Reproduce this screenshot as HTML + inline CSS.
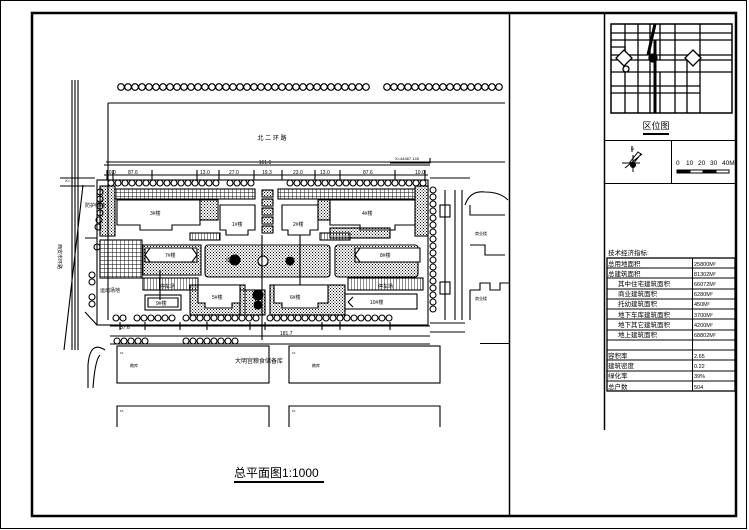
<!DOCTYPE html>
<html><head><meta charset="utf-8"><style>
html,body{margin:0;padding:0;background:#fff}
svg{display:block}
text{font-family:"Liberation Sans","Noto Sans CJK SC",sans-serif;fill:#000}
</style></head><body>
<svg width="749" height="530" viewBox="0 0 749 530" xmlns="http://www.w3.org/2000/svg">
<defs>
<pattern id="dots" width="3" height="3" patternUnits="userSpaceOnUse"><rect x="0" y="0" width="1" height="1" fill="#000"/><rect x="1.5" y="1.5" width="1" height="1" fill="#000"/></pattern>
<pattern id="grid" width="4" height="4" patternUnits="userSpaceOnUse"><path d="M0 0H4M0 0V4" stroke="#000" stroke-width="0.9" fill="none"/></pattern>
<pattern id="vl" width="3" height="4" patternUnits="userSpaceOnUse"><path d="M0 0V4" stroke="#000" stroke-width="0.9"/></pattern>
</defs>
<g fill="none" stroke="#000">
<rect x="0.5" y="0.5" width="746" height="528" stroke-width="1"/>
<rect x="32" y="13" width="704" height="503" stroke-width="2.5"/>
<line x1="509.5" y1="13" x2="509.5" y2="516" stroke-width="1.5"/>
<line x1="604.5" y1="13" x2="604.5" y2="430" stroke-width="1.5"/>
<line x1="480" y1="343.5" x2="509" y2="343.5"/>
<rect x="611" y="24" width="121" height="89" stroke-width="1.5"/>
<g stroke-width="1.3">
<path d="M611 33H732M611 40H732M611 55H732M611 60H732M611 72H732M611 86H700M611 93H700M625 24V113M638 24V113M650 24V113M660 24V60M675 24V113M687 60V113M700 24V113M660 72V113"/>
<path d="M655 24L648 55" stroke-width="3"/>
<path d="M655 40V113" stroke-width="3"/>
<path d="M611 47L625 47L625 58"/>
<path d="M624 50l8 8-8 8-8-8z" fill="#fff"/><path d="M693 50l8 8-8 8-8-8z" fill="#fff"/>
<circle cx="626" cy="69" r="3" fill="#fff"/>
<circle cx="653" cy="58" r="4" fill="#000"/>
</g>
<path d="M643 134H669" stroke-width="2"/>
<line x1="604" y1="140.5" x2="736" y2="140.5"/>
<line x1="671.5" y1="140" x2="671.5" y2="183"/>
<line x1="604" y1="183.5" x2="736" y2="183.5"/>
<path d="M632 146V152M625 168L642 154M630 162l8-10 3 2-8 10z M622 163H640M633 155V172"/>
<circle cx="633" cy="165" r="2.5" fill="#000"/>
<rect x="677" y="170" width="52" height="3" /><rect x="677" y="170" width="13" height="3" fill="#000"/><rect x="703" y="170" width="13" height="3" fill="#000"/>
<rect x="607" y="258" width="128" height="133" stroke-width="1.3"/>
<line x1="692.5" y1="258" x2="692.5" y2="391"/>
<path d="M607 268H735M607 278H735M607 289H735M607 299H735M607 309H735M607 319H735M607 330H735M607 340H735M607 350H735M607 360H735M607 371H735M607 381H735"/>
</g>
<g font-size="6.5">
<text x="656" y="129" font-size="9" text-anchor="middle">区位图</text>
<text x="631" y="150" font-size="4">N</text>
<text x="676" y="165">0</text><text x="686" y="165">10</text><text x="698" y="165">20</text><text x="710" y="165">30</text><text x="722" y="165">40M</text>
<text x="608" y="255">技术经济指标:</text>
<text x="608" y="266">总用地面积</text><text x="694" y="266" font-size="5.5">25800M²</text>
<text x="608" y="276">总建筑面积</text><text x="694" y="276" font-size="5.5">81302M²</text>
<text x="618" y="286">其中住宅建筑面积</text><text x="694" y="286" font-size="5.5">66072M²</text>
<text x="618" y="296">商业建筑面积</text><text x="694" y="296" font-size="5.5">6280M²</text>
<text x="618" y="306">托幼建筑面积</text><text x="694" y="306" font-size="5.5">450M²</text>
<text x="618" y="317">地下车库建筑面积</text><text x="694" y="317" font-size="5.5">3700M²</text>
<text x="618" y="327">地下其它建筑面积</text><text x="694" y="327" font-size="5.5">4200M²</text>
<text x="618" y="337">地上建筑面积</text><text x="694" y="337" font-size="5.5">68802M²</text>
<text x="608" y="358">容积率</text><text x="694" y="358" font-size="5.5">2.65</text>
<text x="608" y="368">建筑密度</text><text x="694" y="368" font-size="5.5">0.22</text>
<text x="608" y="378">绿化率</text><text x="694" y="378" font-size="5.5">39%</text>
<text x="608" y="389">总户数</text><text x="694" y="389" font-size="5.5">504</text>
</g>
<g fill="none" stroke="#000" stroke-width="1.1">
<path d="M72 80V350M75 80V350M78 80V350M83 185L64 350M108 103H505M108 103V320M106 162H505"/>
<path d="M105 350Q90 340 88 365V388M100 355Q95 360 93 388"/>
<g stroke-width="1.2">
<circle cx="121" cy="87" r="3.3"/><circle cx="128" cy="87" r="3.3"/><circle cx="135" cy="87" r="3.3"/><circle cx="142" cy="87" r="3.3"/><circle cx="149" cy="87" r="3.3"/><circle cx="156" cy="87" r="3.3"/><circle cx="163" cy="87" r="3.3"/><circle cx="170" cy="87" r="3.3"/><circle cx="177" cy="87" r="3.3"/><circle cx="184" cy="87" r="3.3"/><circle cx="191" cy="87" r="3.3"/><circle cx="198" cy="87" r="3.3"/><circle cx="205" cy="87" r="3.3"/><circle cx="212" cy="87" r="3.3"/><circle cx="219" cy="87" r="3.3"/><circle cx="226" cy="87" r="3.3"/><circle cx="233" cy="87" r="3.3"/><circle cx="240" cy="87" r="3.3"/><circle cx="247" cy="87" r="3.3"/><circle cx="254" cy="87" r="3.3"/><circle cx="261" cy="87" r="3.3"/><circle cx="268" cy="87" r="3.3"/><circle cx="275" cy="87" r="3.3"/><circle cx="282" cy="87" r="3.3"/><circle cx="289" cy="87" r="3.3"/><circle cx="296" cy="87" r="3.3"/><circle cx="303" cy="87" r="3.3"/><circle cx="310" cy="87" r="3.3"/><circle cx="317" cy="87" r="3.3"/><circle cx="324" cy="87" r="3.3"/><circle cx="331" cy="87" r="3.3"/><circle cx="338" cy="87" r="3.3"/><circle cx="345" cy="87" r="3.3"/><circle cx="352" cy="87" r="3.3"/><circle cx="359" cy="87" r="3.3"/><circle cx="366" cy="87" r="3.3"/>
<circle cx="387" cy="87" r="3.3"/><circle cx="394" cy="87" r="3.3"/><circle cx="401" cy="87" r="3.3"/><circle cx="408" cy="87" r="3.3"/><circle cx="415" cy="87" r="3.3"/><circle cx="422" cy="87" r="3.3"/><circle cx="429" cy="87" r="3.3"/><circle cx="436" cy="87" r="3.3"/><circle cx="443" cy="87" r="3.3"/><circle cx="450" cy="87" r="3.3"/><circle cx="457" cy="87" r="3.3"/><circle cx="464" cy="87" r="3.3"/><circle cx="471" cy="87" r="3.3"/><circle cx="478" cy="87" r="3.3"/><circle cx="485" cy="87" r="3.3"/><circle cx="492" cy="87" r="3.3"/><circle cx="499" cy="87" r="3.3"/>
</g>
<path d="M104 165H430M104 175H428M107 170V180M113 170V180M152 170V180M197 170V180M219 170V180M254 170V180M282 170V180M315 170V180M340 170V180M395 170V180M425 170V180"/>
<path d="M390 163H430V158M430 178H470M95 178H60M95 186H60"/>
<rect x="97" y="180" width="331" height="145"/>
<path d="M97 325L85 312M97 238L85 238"/>
<g>
<circle cx="111" cy="183" r="3"/><circle cx="118" cy="183" r="3"/><circle cx="125" cy="183" r="3"/><circle cx="132" cy="183" r="3"/><circle cx="139" cy="183" r="3"/><circle cx="146" cy="183" r="3"/><circle cx="153" cy="183" r="3"/><circle cx="160" cy="183" r="3"/><circle cx="167" cy="183" r="3"/><circle cx="174" cy="183" r="3"/><circle cx="181" cy="183" r="3"/><circle cx="188" cy="183" r="3"/><circle cx="195" cy="183" r="3"/><circle cx="202" cy="183" r="3"/><circle cx="209" cy="183" r="3"/><circle cx="216" cy="183" r="3"/><circle cx="230" cy="183" r="3"/><circle cx="237" cy="183" r="3"/><circle cx="244" cy="183" r="3"/><circle cx="251" cy="183" r="3"/>
<circle cx="290" cy="183" r="3"/><circle cx="297" cy="183" r="3"/><circle cx="304" cy="183" r="3"/><circle cx="311" cy="183" r="3"/><circle cx="318" cy="183" r="3"/><circle cx="325" cy="183" r="3"/><circle cx="332" cy="183" r="3"/><circle cx="339" cy="183" r="3"/><circle cx="346" cy="183" r="3"/><circle cx="353" cy="183" r="3"/><circle cx="360" cy="183" r="3"/><circle cx="367" cy="183" r="3"/><circle cx="374" cy="183" r="3"/><circle cx="381" cy="183" r="3"/><circle cx="388" cy="183" r="3"/><circle cx="395" cy="183" r="3"/><circle cx="402" cy="183" r="3"/><circle cx="409" cy="183" r="3"/><circle cx="416" cy="183" r="3"/><circle cx="423" cy="183" r="3"/>
</g>
<g>
<circle cx="100" cy="192" r="3"/><circle cx="100" cy="199" r="3"/><circle cx="100" cy="206" r="3"/><circle cx="100" cy="213" r="3"/><circle cx="99" cy="220" r="3"/><circle cx="98" cy="227" r="3"/><circle cx="97" cy="247" r="3"/><circle cx="92" cy="275" r="3"/><circle cx="92" cy="282" r="3"/><circle cx="92" cy="297" r="3"/><circle cx="92" cy="304" r="3"/>
</g>
<g>
<circle cx="433" cy="190" r="3"/><circle cx="433" cy="197" r="3"/><circle cx="433" cy="204" r="3"/><circle cx="433" cy="211" r="3"/><circle cx="433" cy="218" r="3"/><circle cx="433" cy="225" r="3"/><circle cx="433" cy="232" r="3"/><circle cx="433" cy="239" r="3"/><circle cx="433" cy="246" r="3"/><circle cx="433" cy="253" r="3"/><circle cx="433" cy="260" r="3"/><circle cx="433" cy="267" r="3"/><circle cx="433" cy="274" r="3"/><circle cx="433" cy="281" r="3"/><circle cx="433" cy="288" r="3"/><circle cx="433" cy="295" r="3"/><circle cx="433" cy="302" r="3"/><circle cx="433" cy="309" r="3"/>
</g>
<rect x="115" y="189" width="140" height="10" fill="url(#grid)"/>
<rect x="278" y="189" width="137" height="10" fill="url(#grid)"/>
<rect x="262" y="190" width="11" height="7" fill="url(#dots)"/><rect x="262" y="199" width="11" height="7" fill="url(#dots)"/><rect x="262" y="208" width="11" height="7" fill="url(#dots)"/><rect x="262" y="217" width="11" height="7" fill="url(#dots)"/><rect x="262" y="226" width="11" height="7" fill="url(#dots)"/>
<rect x="100" y="186" width="15" height="50" fill="url(#dots)"/>
<rect x="415" y="186" width="13" height="50" fill="url(#dots)"/>
<path d="M117 200H200V225H172V230H140V225H117Z" fill="#fff"/>
<path d="M220 205H255V230H248V235H226V230H220Z"/>
<path d="M282 205H318V230H310V235H288V230H282Z"/>
<path d="M330 200H415V225H395V230H360V225H330Z" fill="#fff"/>
<rect x="200" y="200" width="18" height="20" fill="url(#dots)"/>
<rect x="318" y="200" width="12" height="20" fill="url(#dots)"/>
<rect x="330" y="228" width="60" height="10" fill="url(#dots)"/>
<rect x="190" y="233" width="30" height="7" fill="url(#vl)"/>
<rect x="320" y="233" width="30" height="7" fill="url(#vl)"/>
<rect x="100" y="240" width="42" height="38" fill="url(#grid)"/>
<rect x="205" y="245" width="125" height="32" rx="3" fill="url(#dots)"/>
<rect x="335" y="245" width="83" height="32" rx="3" fill="url(#dots)"/>
<rect x="143" y="245" width="58" height="30" fill="url(#dots)"/>
<circle cx="235" cy="260" r="5" fill="#000"/><circle cx="290" cy="261" r="4" fill="#000"/><circle cx="263" cy="261" r="5" fill="#fff"/>
<path d="M145 248H197V262H145Z" fill="#fff"/><path d="M145 255L150 248M145 255L150 262M197 255L192 248M197 255L192 262"/>
<path d="M355 248H420V262H355Z" fill="#fff"/><path d="M355 255L360 248M355 255L360 262"/>
<rect x="143" y="278" width="55" height="12" fill="url(#vl)"/>
<rect x="348" y="278" width="75" height="12" fill="url(#vl)"/>
<rect x="190" y="285" width="55" height="30" fill="url(#dots)"/>
<rect x="270" y="285" width="75" height="30" fill="url(#dots)"/>
<rect x="240" y="290" width="25" height="25" fill="url(#dots)"/>
<path d="M198 285H240V303H232V308H205V303H198Z" fill="#fff"/>
<path d="M274 285H328V303H318V308H282V303H274Z" fill="#fff"/>
<circle cx="258" cy="295" r="5" fill="#000"/><circle cx="258" cy="305" r="4" fill="#000"/>
<rect x="145" y="295" width="36" height="15" fill="#fff"/><path d="M148 298H178V307H148Z"/>
<rect x="345" y="294" width="72" height="15" fill="#fff"/><path d="M348 302L353 297M348 302L353 307"/>
<path d="M262 235V340M160 270V300M300 235V285"/>
<g>
<circle cx="116" cy="318" r="3"/><circle cx="123" cy="318" r="3"/><circle cx="137" cy="318" r="3"/><circle cx="144" cy="318" r="3"/><circle cx="151" cy="318" r="3"/><circle cx="158" cy="318" r="3"/><circle cx="165" cy="318" r="3"/><circle cx="172" cy="318" r="3"/><circle cx="186" cy="318" r="3"/><circle cx="193" cy="318" r="3"/><circle cx="200" cy="318" r="3"/><circle cx="207" cy="318" r="3"/><circle cx="214" cy="318" r="3"/><circle cx="221" cy="318" r="3"/><circle cx="228" cy="318" r="3"/><circle cx="235" cy="318" r="3"/><circle cx="242" cy="318" r="3"/><circle cx="249" cy="318" r="3"/><circle cx="256" cy="318" r="3"/><circle cx="270" cy="318" r="3"/><circle cx="277" cy="318" r="3"/><circle cx="284" cy="318" r="3"/><circle cx="291" cy="318" r="3"/><circle cx="298" cy="318" r="3"/><circle cx="305" cy="318" r="3"/><circle cx="312" cy="318" r="3"/><circle cx="319" cy="318" r="3"/><circle cx="326" cy="318" r="3"/><circle cx="333" cy="318" r="3"/><circle cx="340" cy="318" r="3"/><circle cx="347" cy="318" r="3"/><circle cx="354" cy="318" r="3"/><circle cx="361" cy="318" r="3"/><circle cx="368" cy="318" r="3"/><circle cx="375" cy="318" r="3"/><circle cx="382" cy="318" r="3"/><circle cx="389" cy="318" r="3"/>
<circle cx="117" cy="341" r="3"/><circle cx="124" cy="341" r="3"/><circle cx="131" cy="341" r="3"/><circle cx="138" cy="341" r="3"/><circle cx="145" cy="341" r="3"/><circle cx="186" cy="341" r="3"/><circle cx="193" cy="341" r="3"/><circle cx="200" cy="341" r="3"/><circle cx="207" cy="341" r="3"/><circle cx="214" cy="341" r="3"/><circle cx="221" cy="341" r="3"/><circle cx="228" cy="341" r="3"/><circle cx="235" cy="341" r="3"/>
</g>
<path d="M110 326H430M110 336H430M110 344H430M120 322V330M145 322V330M180 322V330M207 322V330M250 322V330M265 322V330M322 322V330M340 322V330M390 322V330"/>
<path d="M445 190V320M455 190V320M462 190V320"/>
<path d="M465 205Q470 190 485 192Q500 192 508 200M470 205V215H505M470 245H485V255H505M470 290H480V283H490V290H500V283H509M470 290V320"/>
<rect x="440" y="205" width="10" height="12"/><rect x="440" y="282" width="10" height="12"/>
<path d="M430 323H465M430 332H465"/>
<rect x="117" y="346" width="152" height="37"/>
<rect x="289" y="346" width="151" height="37"/>
<path d="M117 427V406H269V427M289 427V406H440V427"/>
<line x1="234" y1="482" x2="324" y2="482" stroke-width="2"/>
</g>
<g font-size="5">
<text x="272" y="140" font-size="6" text-anchor="middle">北 二 环 路</text>
<text x="265" y="164" text-anchor="middle">161.6</text>
<text x="106" y="174">10.0</text><text x="128" y="174">87.6</text><text x="200" y="174">13.0</text><text x="229" y="174">27.0</text><text x="262" y="174">19.3</text><text x="293" y="174">23.0</text><text x="320" y="174">13.0</text><text x="363" y="174">87.6</text><text x="415" y="174">10.0</text>
<text x="150" y="215">3#楼</text><text x="232" y="226">1#楼</text><text x="293" y="226">2#楼</text><text x="362" y="215">4#楼</text>
<text x="165" y="257">7#楼</text><text x="380" y="257">8#楼</text><text x="226" y="262">绿地</text>
<text x="100" y="292">运动场地</text><text x="160" y="288">停车场</text><text x="378" y="288">停车场</text>
<text x="212" y="299">5#楼</text><text x="290" y="299">6#楼</text><text x="156" y="305">9#楼</text><text x="370" y="304">10#楼</text>
<text x="120" y="329">37.6</text><text x="280" y="335">181.7</text>
<text x="235" y="363" font-size="6">大明宫粮食储备库</text>
<text x="120" y="354" font-size="3">1F</text><text x="292" y="354" font-size="3">1F</text><text x="120" y="412" font-size="3">1F</text><text x="292" y="412" font-size="3">1F</text>
<text x="130" y="367" font-size="4">粮库</text><text x="312" y="367" font-size="4">粮库</text>
<text x="85" y="207" font-size="5">防护绿地</text>
<text x="58" y="244" font-size="5" transform="rotate(90 58 244)">西安市环路</text>
<text x="65" y="182" font-size="4">X=...</text>
<text x="395" y="160" font-size="4">X=44467.145</text>
<text x="475" y="235" font-size="4">商业楼</text><text x="475" y="300" font-size="4">商业楼</text>
<text x="234" y="477" font-size="12">总平面图1:1000</text>
</g>
</svg>
</body></html>
